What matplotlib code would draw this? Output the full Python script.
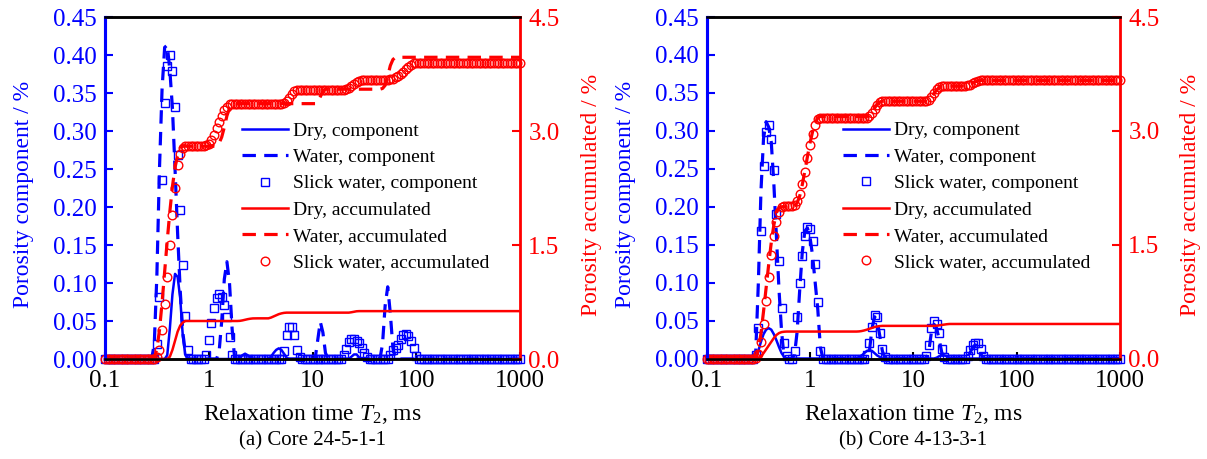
import numpy as np
import matplotlib
matplotlib.use("Agg")
import matplotlib.pyplot as plt
from matplotlib.ticker import FixedLocator, NullLocator, FormatStrFormatter

plt.rcParams['font.family'] = ['Liberation Serif', 'DejaVu Serif']
plt.rcParams['mathtext.fontset'] = 'custom'
plt.rcParams['mathtext.rm'] = 'Liberation Serif'
plt.rcParams['mathtext.it'] = 'Liberation Serif:italic'

# T2 bins (log-spaced, 40 per decade, 0.1 - 1000 ms)
T2 = np.logspace(-1, 3, 161)

# ---------------- Core 24-5-1-1 (a) ----------------
a_dry_comp = ([0.0]*24 + [0.005, 0.04, 0.085, 0.112, 0.108, 0.08, 0.03, 0.005] + [0.0]*20
              + [0.002, 0.005, 0.007, 0.005, 0.002] + [0.0]*7
              + [0.003, 0.008, 0.012, 0.014, 0.012, 0.007, 0.002] + [0.0]*24
              + [0.003, 0.006, 0.006, 0.002] + [0.0]*62)
a_water_comp = ([0.0]*19 + [0.02, 0.11, 0.25, 0.355, 0.41, 0.413, 0.38, 0.33, 0.25, 0.165, 0.09, 0.035, 0.008]
                + [0.0]*12 + [0.01, 0.05, 0.105, 0.128, 0.1, 0.04, 0.0] + [0.0]*31
                + [0.025, 0.049, 0.035, 0.008] + [0.0]*21
                + [0.02, 0.07, 0.095, 0.06, 0.015] + [0.0]*49)
a_slick_comp = ([0.0]*20 + [0.02, 0.082, 0.236, 0.337, 0.385, 0.40, 0.379, 0.332, 0.268, 0.196, 0.124, 0.057, 0.012]
                + [0.0]*6 + [0.005, 0.025, 0.047, 0.067, 0.08, 0.085, 0.082, 0.071, 0.055, 0.029, 0.005]
                + [0.0]*19 + [0.011, 0.031, 0.042, 0.042, 0.031, 0.012, 0.002]
                + [0.0]*16 + [0.005, 0.013, 0.023, 0.026, 0.026, 0.024, 0.021, 0.015, 0.008, 0.002]
                + [0.0]*8 + [0.005, 0.012, 0.015, 0.018, 0.026, 0.032, 0.033, 0.03, 0.024, 0.014, 0.004]
                + [0.0]*40)
a_dry_acc = ([0.0]*25 + [0.03, 0.12, 0.24, 0.36, 0.44, 0.48] + [0.5]*21
             + [0.502, 0.508, 0.516, 0.524, 0.53, 0.534] + [0.535]*6
             + [0.545, 0.56, 0.575, 0.59, 0.6, 0.607] + [0.61]*25
             + [0.615, 0.622, 0.628] + [0.63]*63)
a_water_acc = ([0.0]*19 + [0.02, 0.13, 0.38, 0.74, 1.15, 1.56, 1.94, 2.27, 2.52, 2.68, 2.77, 2.8]
               + [2.8]*13 + [2.84, 2.92, 3.05, 3.2, 3.3, 3.35] + [3.36]*32
               + [3.38, 3.45, 3.52] + [3.55]*22 + [3.56, 3.6, 3.72, 3.86, 3.94] + [3.97]*49)
a_slick_acc = ([0.0]*20 + [0.03, 0.12, 0.38, 0.72, 1.08, 1.5, 1.9, 2.25, 2.55, 2.7, 2.77]
               + [2.8]*8 + [2.81, 2.83, 2.88, 2.95, 3.04, 3.12, 3.2, 3.27, 3.32, 3.35]
               + [3.36]*20 + [3.37, 3.4, 3.44, 3.49, 3.52] + [3.54]*19
               + [3.55, 3.57, 3.59, 3.62, 3.64, 3.66] + [3.67]*11
               + [3.68, 3.69, 3.71, 3.73, 3.75, 3.78, 3.81, 3.84, 3.87] + [3.89]*42)

# ---------------- Core 4-13-3-1 (b) ----------------
b_dry_comp = ([0.0]*20 + [0.01, 0.022, 0.032, 0.038, 0.04, 0.038, 0.032, 0.024, 0.015, 0.007, 0.002]
              + [0.0]*28 + [0.002, 0.004, 0.007, 0.01, 0.011, 0.01, 0.007, 0.004, 0.002]
              + [0.0]*21 + [0.001, 0.003, 0.004, 0.004, 0.003, 0.001] + [0.0]*66)
b_water_comp = ([0.0]*19 + [0.01, 0.1, 0.22, 0.29, 0.312, 0.305, 0.285, 0.23, 0.16, 0.09, 0.035]
                + [0.0]*4 + [0.005, 0.035, 0.09, 0.14, 0.168, 0.172, 0.16, 0.135, 0.1, 0.065, 0.015]
                + [0.0]*18 + [0.01, 0.04, 0.055, 0.05, 0.03, 0.01]
                + [0.0]*17 + [0.01, 0.035, 0.045, 0.04, 0.025, 0.008]
                + [0.0]*10 + [0.008, 0.015, 0.018, 0.015, 0.007] + [0.0]*54)
b_slick_comp = ([0.0]*19 + [0.005, 0.04, 0.168, 0.254, 0.299, 0.308, 0.289, 0.248, 0.19, 0.129, 0.066, 0.02, 0.003]
                + [0.0]*2 + [0.01, 0.055, 0.1, 0.135, 0.162, 0.173, 0.17, 0.155, 0.125, 0.075, 0.01]
                + [0.0]*17 + [0.005, 0.02, 0.042, 0.057, 0.055, 0.033, 0.012, 0.002]
                + [0.0]*15 + [0.003, 0.018, 0.04, 0.049, 0.045, 0.033, 0.012, 0.002]
                + [0.0]*8 + [0.003, 0.011, 0.018, 0.021, 0.02, 0.012, 0.003] + [0.0]*53)
b_dry_acc = ([0.0]*20 + [0.01, 0.03, 0.07, 0.12, 0.17, 0.22, 0.27, 0.31, 0.335, 0.348, 0.353]
             + [0.355]*28 + [0.357, 0.362, 0.37, 0.38, 0.392, 0.405, 0.415, 0.422, 0.427]
             + [0.43]*21 + [0.432, 0.437, 0.443, 0.448, 0.452] + [0.455]*67)
b_water_acc = ([0.0]*19 + [0.01, 0.11, 0.33, 0.62, 0.93, 1.24, 1.53, 1.76, 1.92, 1.99]
               + [2.0]*5 + [2.01, 2.05, 2.14, 2.29, 2.47, 2.66, 2.84, 2.99, 3.1, 3.17]
               + [3.19]*19 + [3.2, 3.24, 3.3, 3.35, 3.38] + [3.39]*18
               + [3.4, 3.44, 3.49, 3.54, 3.57] + [3.59]*11 + [3.61, 3.63, 3.645, 3.66] + [3.665]*55)
b_slick_acc = ([0.0]*19 + [0.01, 0.06, 0.22, 0.46, 0.76, 1.07, 1.36, 1.61, 1.8, 1.93, 1.99]
               + [2.01]*4 + [2.02, 2.07, 2.17, 2.3, 2.46, 2.64, 2.81, 2.96, 3.08, 3.16]
               + [3.17]*18 + [3.175, 3.19, 3.23, 3.29, 3.345, 3.38] + [3.39]*17
               + [3.395, 3.41, 3.45, 3.5, 3.545, 3.575] + [3.59]*10
               + [3.6, 3.61, 3.63, 3.645, 3.655] + [3.665]*55)

x_ticks = [0.1, 1, 10, 100, 1000]
x_ticklabels = ['0.1', '1', '10', '100', '1000']
left_ticks = [0.0, 0.05, 0.10, 0.15, 0.20, 0.25, 0.30, 0.35, 0.40, 0.45]
right_ticks = [0.0, 1.5, 3.0, 4.5]
legend_labels = ['Dry, component', 'Water, component', 'Slick water, component',
                 'Dry, accumulated', 'Water, accumulated', 'Slick water, accumulated']
titles = ['(a) Core 24-5-1-1', '(b) Core 4-13-3-1']

BLUE = '#0000FF'
RED = '#FF0000'
DASH = (0, (4.2, 2.6))

fig = plt.figure(figsize=(12.07, 4.59), dpi=100)

TICK_FS = 18
LABEL_FS = 17


def panel(rect, dc, wc, sc, da, wa, sa, title):
    ax = fig.add_axes(rect)
    ax2 = ax.twinx()
    h1, = ax.plot(T2, dc, color=BLUE, lw=1.8)
    h2, = ax.plot(T2, wc, color=BLUE, lw=2.3, linestyle=DASH)
    h3, = ax.plot(T2, sc, linestyle='none', marker='s', ms=6.2, mfc='none',
                  mec=BLUE, mew=1.0, clip_on=False)
    h4, = ax2.plot(T2, da, color=RED, lw=1.8)
    h5, = ax2.plot(T2, wa, color=RED, lw=2.3, linestyle=DASH)
    h6, = ax2.plot(T2, sa, linestyle='none', marker='o', ms=6.2, mfc='none',
                   mec=RED, mew=1.0, clip_on=False)

    ax.set_xscale('log')
    ax.set_xlim(0.1, 1000)
    ax.set_ylim(0, 0.45)
    ax2.set_ylim(0, 4.5)
    ax.xaxis.set_major_locator(FixedLocator(x_ticks))
    ax.set_xticklabels(x_ticklabels)
    ax.xaxis.set_minor_locator(NullLocator())
    ax.yaxis.set_major_locator(FixedLocator(left_ticks))
    ax.yaxis.set_major_formatter(FormatStrFormatter('%.2f'))
    ax2.yaxis.set_major_locator(FixedLocator(right_ticks))
    ax2.yaxis.set_major_formatter(FormatStrFormatter('%.1f'))

    ax.tick_params(axis='x', direction='in', length=5, width=1.5, labelsize=TICK_FS,
                   colors='black', pad=8)
    ax.tick_params(axis='y', direction='in', length=6, width=1.5, labelsize=TICK_FS,
                   colors=BLUE, pad=6)
    ax2.tick_params(axis='y', direction='in', length=6, width=1.5, labelsize=TICK_FS,
                    colors=RED, pad=6)

    for a in (ax, ax2):
        a.spines['top'].set_color('black')
        a.spines['bottom'].set_color('black')
        a.spines['top'].set_linewidth(1.8)
        a.spines['bottom'].set_linewidth(1.8)
    ax2.spines['left'].set_color(BLUE)
    ax2.spines['left'].set_linewidth(2.2)
    ax.spines['left'].set_color(BLUE)
    ax.spines['left'].set_linewidth(2.2)
    ax2.spines['right'].set_color(RED)
    ax2.spines['right'].set_linewidth(2.0)
    ax.spines['right'].set_visible(False)

    ax.set_ylabel('Porosity component / %', color=BLUE, fontsize=LABEL_FS)
    ax.yaxis.set_label_coords(-0.171, 0.48)
    ax2.set_ylabel('Porosity accumulated / %', color=RED, fontsize=LABEL_FS, rotation=90)
    ax2.yaxis.set_label_coords(1.146, 0.48)
    ax.set_xlabel('Relaxation time $T_2$, ms', fontsize=LABEL_FS)
    ax.xaxis.set_label_coords(0.5, -0.126)

    ax2.legend([h1, h2, h3, h4, h5, h6], legend_labels, loc='upper left',
               bbox_to_anchor=(0.329, 0.693), frameon=False, fontsize=14,
               handlelength=2.4, handletextpad=0.25, labelspacing=0.45,
               borderpad=0, borderaxespad=0)

    bb = ax.get_position()
    fig.text(bb.x0 + bb.width / 2, 1 - 441 / 459, title, ha='center', va='center',
             fontsize=15)
    return ax, ax2


panel([105 / 1207, 100 / 459, 415 / 1207, 342 / 459],
      a_dry_comp, a_water_comp, a_slick_comp, a_dry_acc, a_water_acc, a_slick_acc, titles[0])
panel([706.7 / 1207, 100.5 / 459, 413.3 / 1207, 341.5 / 459],
      b_dry_comp, b_water_comp, b_slick_comp, b_dry_acc, b_water_acc, b_slick_acc, titles[1])

fig.savefig('out.png', dpi=100)
